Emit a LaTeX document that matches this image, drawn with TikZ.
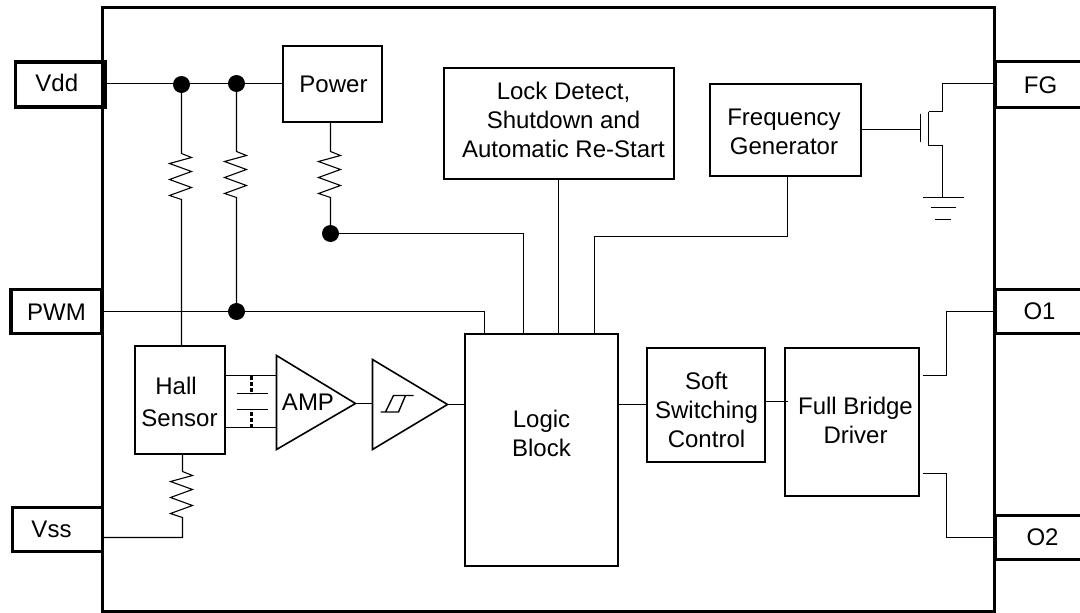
\documentclass[tikz,border=0pt]{standalone}
\usepackage{fontspec}
\usetikzlibrary{calc}
\setmainfont{Liberation Sans}
% #1 horizontal offset of the text, #2 vertical offset of the text, #3 lines
\newcommand{\boxtxt}[3]{\raisebox{#2}[0pt][0pt]{\makebox[0pt]{\kern#1\kern#1\begin{tabular}{@{}c@{}}#3\end{tabular}}}}
% resistor body, drawn downward from the current point of a path
\newcommand{\zigbody}{-- ++(10,4) -- ++(-22,6) -- ++(22,8) -- ++(-22,8) -- ++(22,8) -- ++(-22,8) -- ++(12,4)}
\tikzset{
  x=1pt,y=-1pt,
  base/.style={font=\fontsize{24}{29}\selectfont,text=black,inner sep=0pt,outer sep=0pt},
  block/.style={base,draw=black,line width=2pt,anchor=center},
  pin/.style={base,draw=black,line width=3.6pt,anchor=center},
  pinlabel/.style={base,anchor=center},
  wire/.style={draw=black,line width=1.1pt},
  plate/.style={draw=black,line width=1.4pt},
  capdash/.style={draw=black,line width=2.5pt,dash pattern=on 4pt off 2pt},
  chip/.style={draw=black,line width=3pt},
  dotnode/.style={circle,fill=black,draw=none,minimum size=17pt,inner sep=0pt,outer sep=0pt},
  pinopen/.style={draw=black,line width=3.6pt,line join=miter},
  amp/.style={draw=black,line width=1.6pt,line join=miter},
}
\begin{document}
\begin{tikzpicture}
\useasboundingbox (-0.5,-0.5) rectangle (1079.5,612.5);
% chip outline
\draw[chip] (102,7) rectangle (994,611);

% pins
\node[pin,minimum width=90pt,minimum height=45pt] (vdd) at (60,84) {\boxtxt{-3.7pt}{-7.9pt}{Vdd}};
\node[pin,minimum width=91pt,minimum height=44pt] (pwm) at (56,311) {\boxtxt{0pt}{-9pt}{PWM}};
\node[pin,minimum width=90pt,minimum height=44pt] (vss) at (57,529) {\boxtxt{-6pt}{-8.5pt}{Vss}};
\node[pinlabel,minimum width=86pt,minimum height=46pt] (fg) at (1038,84) {\boxtxt{2pt}{-9.5pt}{FG}};
\node[pinlabel,minimum width=86pt,minimum height=44pt] (o1) at (1038,311) {\boxtxt{1pt}{-8pt}{O1}};
\node[pinlabel,minimum width=86pt,minimum height=44pt] (o2) at (1038,537) {\boxtxt{4pt}{-8pt}{O2}};
\draw[pinopen] (1085,61) -- (fg.north west) -- (fg.south west) -- (1085,107);
\draw[pinopen] (1085,289) -- (o1.north west) -- (o1.south west) -- (1085,333);
\draw[chip] (1085,515) -- (o2.north west) (o2.south west) -- (1085,559);
\draw[chip] (o2.north west) -- (o2.south west);

% blocks
\node[block,minimum width=99pt,minimum height=76pt] (power) at (331.5,83) {\boxtxt{1.5pt}{-9.7pt}{Power}};
\node[block,minimum width=230pt,minimum height=111pt] (lock) at (558,122.5) {\boxtxt{5pt}{-5.5pt}{Lock Detect,\\Shutdown and\\Automatic Re-Start}};
\node[block,minimum width=151pt,minimum height=92pt] (freq) at (784.5,129) {\boxtxt{-1pt}{-11pt}{Frequency\\Generator}};
\node[block,minimum width=90pt,minimum height=108pt] (hall) at (179,399) {\boxtxt{0pt}{-11.2pt}{Hall\kern 7pt\\[2.5pt]Sensor}};
\node[block,minimum width=153pt,minimum height=232pt] (logic) at (540.5,449) {\boxtxt{0.5pt}{7.3pt}{Logic\\Block}};
\node[block,minimum width=118pt,minimum height=114pt] (soft) at (705,404) {\boxtxt{1pt}{-14pt}{Soft\\Switching\\Control}};
\node[block,minimum width=134pt,minimum height=148pt] (full) at (851,421) {\boxtxt{4pt}{-7.7pt}{Full Bridge\\Driver}};

% junctions
\node[dotnode] (d1) at (181,84) {};
\node[dotnode] (d2) at (236,83) {};
\node[dotnode] (d3) at (330,233) {};
\node[dotnode] (d4) at (236,311) {};

% supply rail and pull-ups
\draw[wire] (vdd.east |- power.west) -- (d1.center |- power.west) -- (d2) -- (power.west);
\draw[wire] (d1) -- (181,153) \zigbody -- (hall.north -| d1);
\draw[wire] (d2) -- (236,151) \zigbody -- (d4);
\draw[wire] (power.south -| d3) -- (330,151) \zigbody -- (d3);

% logic inputs
\coordinate (li1) at (484,333);
\coordinate (li2) at (523,333);
\coordinate (li3) at (558,333);
\coordinate (li4) at (594,333);
\draw[wire] (pwm.east) -- (d4) -- (li1 |- d4) -- (li1);
\draw[wire] (d3) -- (li2 |- d3) -- (li2);
\draw[wire] (lock.south) -- (li3);
\coordinate (fgout) at (787,175);
\draw[wire] (fgout) -- (787,236) -- (li4 |- 0,236) -- (li4);

% Hall to Vss
\coordinate (hb) at (182,453);
\draw[wire] (hb) -- (182,471) \zigbody -- (182,537) -- (vss.east |- 0,537);

% amp stage
\coordinate (ampL) at (276,355);
\coordinate (ampB) at (276,449);
\coordinate (ampT) at (355,403);
\coordinate (schL) at (372,359);
\coordinate (schB) at (372,449);
\coordinate (schT) at (447,404);
\draw[amp] (ampL) -- (ampT) -- (ampB) -- cycle;
\draw[amp] (schL) -- (schT) -- (schB) -- cycle;
\node[pinlabel] (amplabel) at (307.5,402) {AMP};
\draw[plate] (380,411.5) -- (398,411.5) -- (405,395) -- (413,395) (405,395) -- (393,395) -- (385,411.5);
\draw[wire] (hall.east |- 0,375) -- (ampL |- 0,375);
\draw[wire] (hall.east |- 0,427) -- (ampL |- 0,427);
\draw[capdash] (251,375) -- (251,393);
\draw[capdash] (251,427) -- (251,409);
\draw[plate] (236,393) -- (267,393);
\draw[plate] (236,409) -- (267,409);
\draw[wire] (ampT) -- (schL |- ampT);
\draw[wire] (schT) -- (logic.west |- schT);

% output stage
\draw[wire] (logic.east |- soft.west) -- (soft.west);
\draw[wire] (soft.east |- 0,401) -- ($(full.west |- 0,401)+(3,0)$);
\coordinate (fo1) at (922,375);
\coordinate (fo2) at (922,473);
\draw[wire] (fo1) -- (946,375) -- (946,311) -- (o1.west);
\draw[wire] (fo2) -- (946,473) -- (946,537) -- (o2.west);

% FET and ground
\coordinate (gate) at (920,129);
\draw[wire] (freq.east) -- (gate);
\draw[plate] (920,113) -- (920,141);
\draw[plate] (928,111) -- (928,145);
\draw[wire] (928,111) -- (942,111) -- (942,83) -- (fg.west |- 0,83);
\coordinate (gnd) at (942,197);
\draw[wire] (928,145) -- (942,145) -- (gnd);
\draw[wire] (922,197) -- (963,197);
\draw[wire] (930,207) -- (955,207);
\draw[wire] (934,219) -- (950,219);
\end{tikzpicture}
\end{document}
